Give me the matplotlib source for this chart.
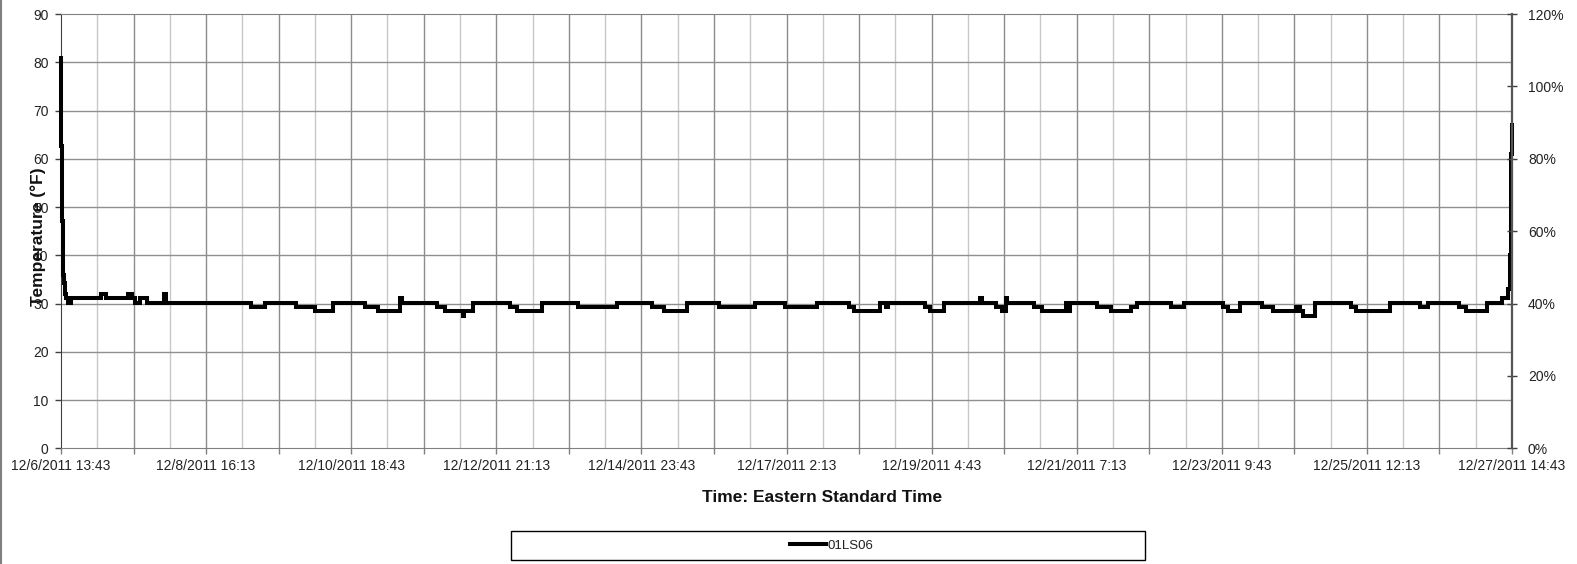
import matplotlib
matplotlib.use('Agg')
import matplotlib.pyplot as plt
from matplotlib.ticker import PercentFormatter
from matplotlib.patches import Rectangle
from matplotlib.lines import Line2D

plt.rcParams['font.family'] = ['Liberation Sans', 'DejaVu Sans']

# ---- data: hours since 12/6/2011 13:43 and temperature (°F), step-wise readings
hours = [0.00, 0.14, 0.28, 0.42, 0.56, 0.70, 0.87, 1.04, 1.39, 1.91,
         2.44, 3.65, 13.82, 15.77, 23.32, 24.71, 25.76, 27.39, 29.93, 35.85,
         36.37, 66.23, 70.90, 81.89, 88.30, 94.67, 105.80, 110.43, 117.98, 118.51,
         130.76, 133.65, 139.74, 140.43, 143.50, 156.27, 158.60, 167.30, 180.04, 193.40,
         205.69, 209.76, 217.87, 228.90, 241.64, 252.08, 263.12, 274.15, 275.89, 285.15,
         287.30, 287.83, 300.81, 302.55, 307.32, 319.85, 320.37, 325.31, 327.61, 328.79,
         329.35, 338.64, 341.53, 349.67, 350.65, 351.34, 360.67, 365.33, 372.29, 374.59,
         386.22, 390.84, 404.42, 406.16, 410.33, 417.89, 421.92, 429.82, 431.22, 432.09,
         436.44, 448.97, 450.71, 462.37, 472.81, 475.77, 486.55, 488.99, 496.13, 501.52,
         503.78, 504.13, 504.48, 504.72, 505.00]
temps = [80.8, 62.7, 50.0, 47.0, 43.0, 40.0, 36.0, 34.2, 32.0, 31.1,
         30.2, 31.1, 32.0, 31.1, 32.0, 31.1, 30.2, 31.1, 30.2, 32.0,
         30.2, 29.3, 30.2, 29.3, 28.4, 30.2, 29.3, 28.4, 31.1, 30.2,
         29.3, 28.4, 27.5, 28.4, 30.2, 29.3, 28.4, 30.2, 29.3, 30.2,
         29.3, 28.4, 30.2, 29.3, 30.2, 29.3, 30.2, 29.3, 28.4, 30.2,
         29.3, 30.2, 29.3, 28.4, 30.2, 31.1, 30.2, 29.3, 28.4, 31.1,
         30.2, 29.3, 28.4, 30.2, 28.4, 30.2, 29.3, 28.4, 29.3, 30.2,
         29.3, 30.2, 29.3, 28.4, 30.2, 29.3, 28.4, 29.3, 28.4, 27.5,
         30.2, 29.3, 28.4, 30.2, 29.3, 30.2, 29.3, 28.4, 30.2, 31.1,
         33.0, 40.0, 50.0, 61.0, 67.0]

tick_labels = ["12/6/2011 13:43", "12/8/2011 16:13", "12/10/2011 18:43",
               "12/12/2011 21:13", "12/14/2011 23:43", "12/17/2011 2:13",
               "12/19/2011 4:43", "12/21/2011 7:13", "12/23/2011 9:43",
               "12/25/2011 12:13", "12/27/2011 14:43"]
label_step_h = 50.5
series_name = "01LS06"
y_label = "Temperature (°F)"
x_label = "Time: Eastern Standard Time"

W, H = 1577, 564
fig = plt.figure(figsize=(W / 100, H / 100), dpi=100)
L, R, T, B = 61, 1512, 14, 448.3
ax = fig.add_axes([L / W, 1 - B / H, (R - L) / W, (B - T) / H])

span = label_step_h * (len(tick_labels) - 1)
ax.set_xlim(0, span)
ax.set_ylim(0, 90)

# vertical grid: darker at tick marks, lighter in between
n_grid = 40
for i in range(1, n_grid):
    t = i * span / n_grid
    ax.axvline(t, color='#8c8c8c' if i % 2 == 0 else '#c8c8c8', lw=1.0, zorder=0.5)
for v in range(10, 90, 10):
    ax.axhline(v, color='#8f8f8f', lw=1.0, zorder=0.5)

ax.plot(hours, temps, color='black', lw=2.9, drawstyle='steps-post',
        solid_joinstyle='miter', zorder=3, clip_on=False)

ax.set_xticks([i * label_step_h for i in range(len(tick_labels))])
ax.set_xticklabels(tick_labels)
ax.set_xticks([label_step_h / 2 + i * label_step_h for i in range(len(tick_labels) - 1)], minor=True)
ax.set_yticks(range(0, 91, 10))

ax.tick_params(axis='x', which='both', length=4, width=1, color='#808080',
               labelsize=10, labelcolor='#222222', pad=3.5)
ax.tick_params(axis='y', length=4, width=1, color='#404040',
               labelsize=10, labelcolor='#222222', pad=5)

ax.spines['left'].set_color('#404040')
ax.spines['bottom'].set_color('#808080')
ax.spines['top'].set_color('#808080')
ax.spines['right'].set_visible(False)

ax2 = ax.twinx()
ax2.set_ylim(0, 1.2)
ax2.set_yticks([0, 0.2, 0.4, 0.6, 0.8, 1.0, 1.2])
ax2.yaxis.set_major_formatter(PercentFormatter(1.0, decimals=0))
ax2.tick_params(axis='y', direction='inout', length=7, width=1, color='#404040',
                labelsize=10, labelcolor='#222222', pad=8)
for s in ['left', 'top', 'bottom']:
    ax2.spines[s].set_visible(False)
ax2.spines['right'].set_color('#555555')
ax2.spines['right'].set_linewidth(1.6)

fig.text(38.5 / W, 1 - 237 / H, y_label, rotation=90, ha='center', va='center',
         fontsize=12.5, fontweight='bold', color='#111111')
fig.text(822 / W, 1 - 497 / H, x_label, ha='center', va='center',
         fontsize=12.5, fontweight='bold', color='#111111')

# legend box
fig.patches.append(Rectangle((511 / W, 1 - 560 / H), 634 / W, 29 / H,
                             transform=fig.transFigure, fill=False,
                             edgecolor='black', lw=1.0))
handle = Line2D([], [], color='black', lw=2.9)
fig.legend([handle], [series_name], loc='center', bbox_to_anchor=(832 / W, 1 - 545.5 / H),
           frameon=False, fontsize=9.5, handlelength=2.7, handletextpad=0.15,
           labelcolor='#222222')

# outer frame line on the left edge
fig.add_artist(Line2D([0.6 / W, 0.6 / W], [0, 1], transform=fig.transFigure,
                      color='#808080', lw=1.5))

fig.savefig('out.png', dpi=100)
